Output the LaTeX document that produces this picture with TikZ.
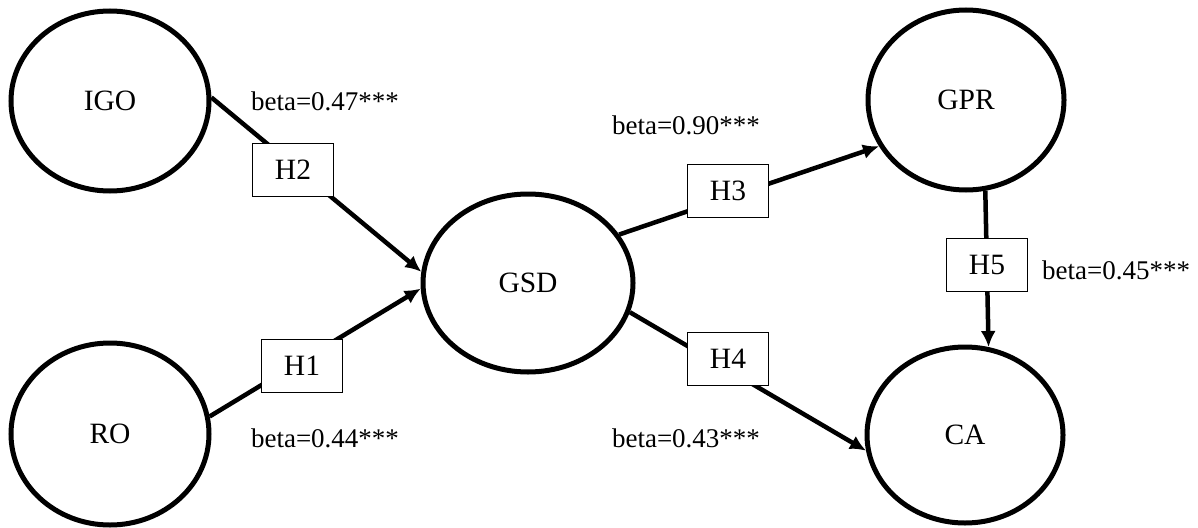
\documentclass[tikz,border=0pt]{standalone}
\usepackage{fontspec}
\setmainfont{Liberation Serif}
\usetikzlibrary{shapes.geometric,arrows.meta}
\begin{document}
\begin{tikzpicture}[x=1pt,y=-1pt,
  construct/.style={ellipse,draw,line width=5pt,inner sep=0pt,
    font=\fontsize{29.5}{34}\selectfont},
  hypbox/.style={draw,line width=1pt,fill=white,minimum width=81pt,
    minimum height=53pt,inner sep=0pt,font=\fontsize{29.5}{34}\selectfont},
  coef/.style={inner sep=0pt,font=\fontsize{27}{32}\selectfont},
  path/.style={line width=4.5pt,-{Latex[length=16pt,width=15pt]}}]
\useasboundingbox (0,0) rectangle (1198,527);

% latent constructs
\node[construct,minimum width=198pt,minimum height=180pt] (IGO) at (110,101) {IGO};
\node[construct,minimum width=198pt,minimum height=182pt] (RO)  at (110,434) {RO};
\node[construct,minimum width=210pt,minimum height=178pt] (GSD) at (528,283) {GSD};
\node[construct,minimum width=196pt,minimum height=180pt] (GPR) at (966,100) {GPR};
\node[construct,minimum width=196pt,minimum height=176pt] (CA)  at (965,435) {CA};

% structural paths
\draw[path] (IGO.2) -- (GSD.174);
\draw[path] (RO.10) -- (GSD.183);
\draw[path] (GSD.28) -- (GPR.208);
\draw[path] (GSD.-16) -- (CA.189);
\draw[path] (GPR.-78) -- (CA.75);

% hypothesis labels
\node[hypbox] (H2) at (293,170) {H2};
\node[hypbox] (H1) at (302,366) {H1};
\node[hypbox] (H3) at (728,191) {H3};
\node[hypbox] (H4) at (728,359) {H4};
\node[hypbox] (H5) at (987,265) {H5};

% path coefficients
\node[coef] (b2) at (325,101) {beta=0.47***};
\node[coef] (b1) at (325,438) {beta=0.44***};
\node[coef] (b3) at (686,125) {beta=0.90***};
\node[coef] (b4) at (686,438) {beta=0.43***};
\node[coef] (b5) at (1116,270) {beta=0.45***};
\end{tikzpicture}
\end{document}
